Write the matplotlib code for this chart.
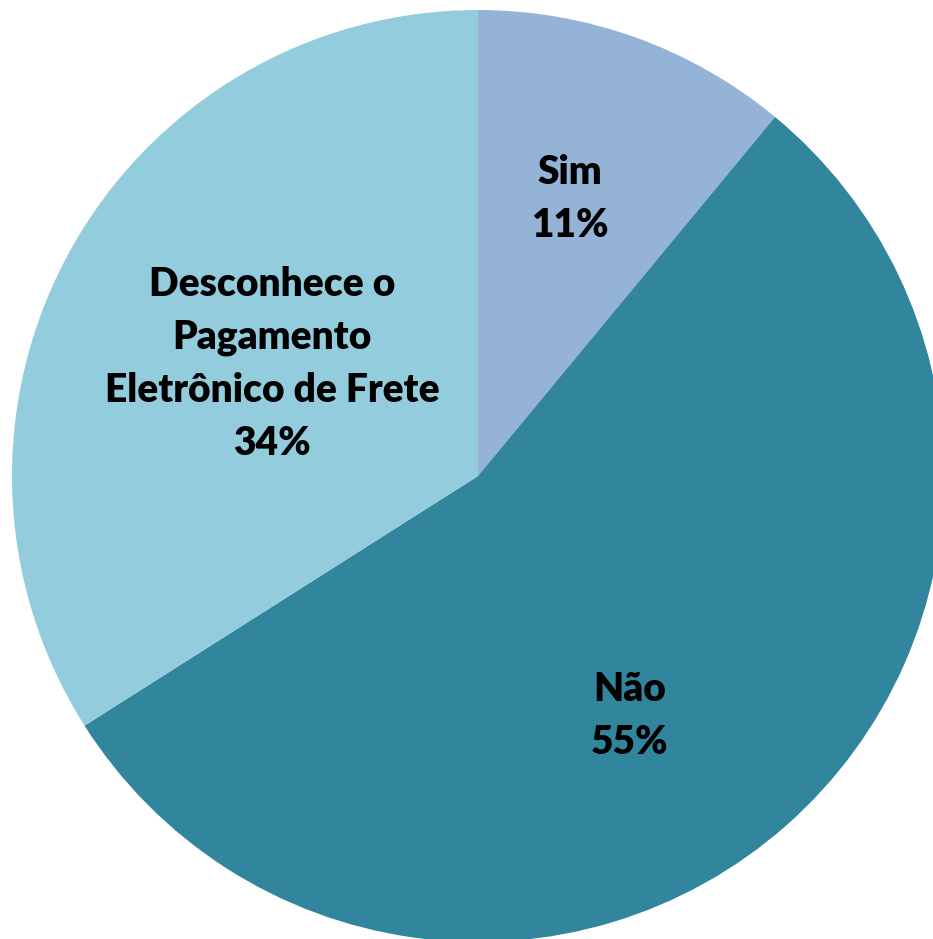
import matplotlib.pyplot as plt

categorias = ["Sim", "Não", "Desconhece o\nPagamento\nEletrônico de Frete"]
valores = [11, 55, 34]
cores = ["#95B3D7", "#31859C", "#93CDDD"]

# label centres in pixel coords (x, y from top)
pos_rotulos = [(570, 199), (630, 716), (272, 364)]

W, H = 933, 939
fig = plt.figure(figsize=(W / 100, H / 100), dpi=100)
ax = fig.add_axes([0, 0, 1, 1])

cx, cy, r = 478, 476, 466
wedges, _ = ax.pie(valores, colors=cores, startangle=90, counterclock=False,
                   center=(cx, H - cy), radius=r, frame=True,
                   wedgeprops=dict(linewidth=0))
ax.set_xlim(0, W)
ax.set_ylim(0, H)
ax.axis("off")

for nome, v, (x, y) in zip(categorias, valores, pos_rotulos):
    ax.text(x, H - y, f"{nome}\n{v}%", ha="center", va="center",
            fontsize=28, fontweight="heavy", family="Lato",
            linespacing=1.53, color="black")

fig.savefig("out.png", dpi=100)
